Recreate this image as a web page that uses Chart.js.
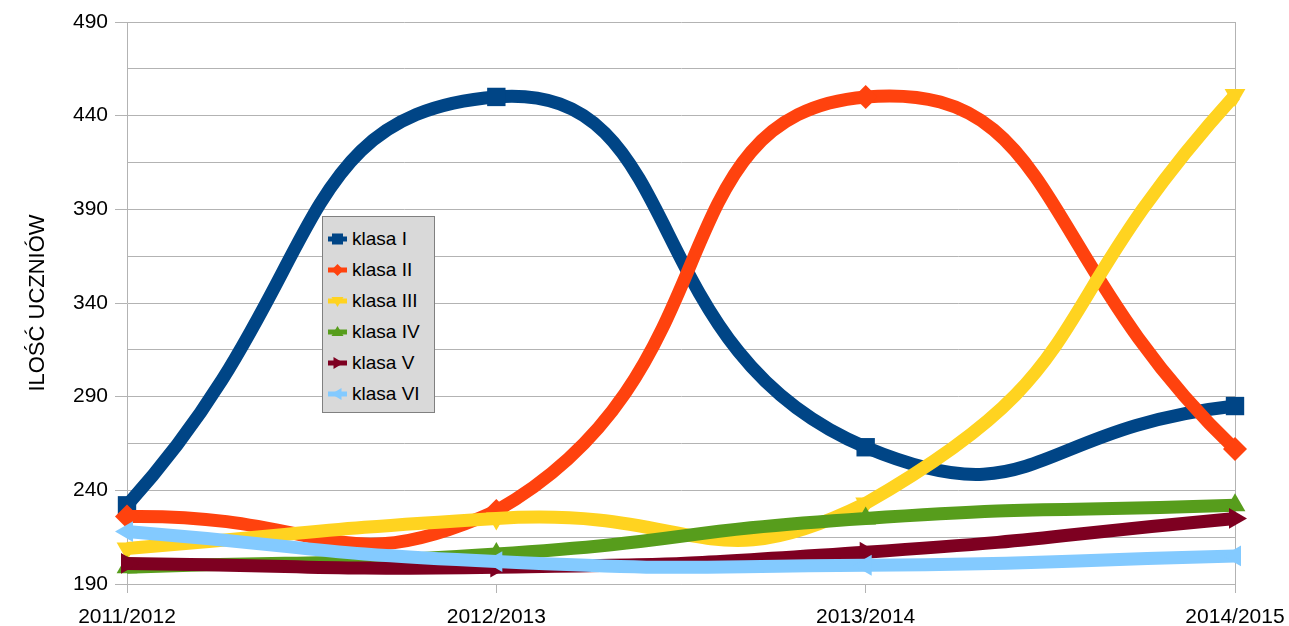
<!DOCTYPE html>
<html>
<head>
<meta charset="utf-8">
<script src="https://cdn.jsdelivr.net/npm/chart.js@4/dist/chart.umd.min.js"></script>
<style>
  body { margin: 0; background: #fff; }
  #wrap { position: relative; width: 1289px; height: 626px; }
  #legend {
    position: absolute; left: 322px; top: 216px; width: 111px; height: 189px;
    background: #d9d9d9; border: 1px solid #808080; padding-top: 6px; box-sizing: content-box;
    font-family: 'Liberation Sans', Arial, sans-serif; font-size: 19px; color: #000;
  }
  .item { height: 31px; display: flex; align-items: center; padding-left: 5px; }
  .item svg { margin-right: 5px; }
</style>
</head>
<body>
<div id="wrap">
  <canvas id="chart" width="1289" height="626"></canvas>
  <div id="legend"></div>
</div>
<script>
// Data
const categories = ['2011/2012', '2012/2013', '2013/2014', '2014/2015'];
const klasaI   = [232, 450, 263, 285];
const klasaII  = [226, 229, 450, 262];
const klasaIII = [209, 225, 233, 451];
const klasaIV  = [199, 206, 225, 232];
const klasaV   = [201, 199, 207, 225];
const klasaVI  = [218, 202, 200, 205];
const seriesNames = ['klasa I', 'klasa II', 'klasa III', 'klasa IV', 'klasa V', 'klasa VI'];
const yTickValues = [190, 215, 240, 265, 290, 315, 340, 365, 390, 415, 440, 465, 490];

const seriesData = [klasaI, klasaII, klasaIII, klasaIV, klasaV, klasaVI];
const colors = ['#004586', '#ff420e', '#ffd320', '#579d1c', '#7e0021', '#83caff'];
// marker shape and rotation for every series
const markers = [
    {style: 'rect', rot: 0, r: 13},
    {style: 'rectRot', rot: 0, r: 12},
    {style: 'triangle', rot: 180, r: 12},
    {style: 'triangle', rot: 0, r: 12},
    {style: 'triangle', rot: 90, r: 12},
    {style: 'triangle', rot: -90, r: 12}
];
const FONT = "'Liberation Sans', Arial, sans-serif";
const gridGray = '#b3b3b3';

const datasets = seriesData.map((d, i) => ({
    label: seriesNames[i],
    data: d,
    borderColor: colors[i],
    backgroundColor: colors[i],
    borderWidth: 13,
    tension: 0.55,
    pointStyle: markers[i].style,
    pointRotation: markers[i].rot,
    pointRadius: markers[i].r,
    pointBorderWidth: 0,
    pointBackgroundColor: colors[i],
    order: seriesData.length - i   // later series on top
}));

new Chart(document.getElementById('chart'), {
    type: 'line',
    data: { labels: categories, datasets: datasets },
    options: {
        responsive: false,
        animation: false,
        devicePixelRatio: 1,
        layout: { padding: { left: 0, right: 54, top: 22, bottom: 0 } },
        plugins: { legend: { display: false }, tooltip: { enabled: false } },
        scales: {
            x: {
                offset: false,
                grid: {
                    color: (ctx) => ctx.index === categories.length - 1 ? gridGray : 'rgba(0,0,0,0)',
                    tickColor: gridGray,
                    tickLength: 9
                },
                border: { color: gridGray },
                ticks: { color: '#000', font: { family: FONT, size: 21 }, padding: 12, maxRotation: 0 },
                afterFit: (scale) => {
                    scale.height = 42;
                    scale.paddingLeft = 0;
                    scale.paddingRight = 0;
                }
            },
            y: {
                min: 190,
                max: 490,
                afterBuildTicks: (scale) => { scale.ticks = yTickValues.map(v => ({ value: v })); },
                grid: {
                    color: gridGray,
                    tickColor: (ctx) => ctx.tick && (ctx.tick.value - 190) % 50 === 0 ? gridGray : 'rgba(0,0,0,0)',
                    tickLength: 12
                },
                border: { color: gridGray },
                ticks: {
                    color: '#000',
                    font: { family: FONT, size: 21 },
                    padding: 7,
                    callback: (v) => (v - 190) % 50 === 0 ? v : ''
                },
                title: {
                    display: true,
                    text: 'ILOŚĆ UCZNIÓW',
                    color: '#000',
                    font: { family: FONT, size: 22 },
                    padding: { top: 25, bottom: 0 }
                },
                afterFit: (scale) => { scale.width = 127; }
            }
        }
    }
});

// Legend box drawn as HTML, same order and look as the series
function markerSvg(i) {
    const c = colors[i];
    let shape;
    const cx = 9.5, cy = 7;
    if (i === 0) shape = `<rect x="${cx-5.5}" y="${cy-5.5}" width="11" height="11" fill="${c}"/>`;
    else if (i === 1) shape = `<polygon points="${cx},${cy-6} ${cx+6},${cy} ${cx},${cy+6} ${cx-6},${cy}" fill="${c}"/>`;
    else if (i === 2) shape = `<polygon points="${cx-6},${cy-4} ${cx+6},${cy-4} ${cx},${cy+6}" fill="${c}"/>`;
    else if (i === 3) shape = `<polygon points="${cx-6},${cy+4} ${cx+6},${cy+4} ${cx},${cy-6}" fill="${c}"/>`;
    else if (i === 4) shape = `<polygon points="${cx-4},${cy-6} ${cx-4},${cy+6} ${cx+6},${cy}" fill="${c}"/>`;
    else shape = `<polygon points="${cx+4},${cy-6} ${cx+4},${cy+6} ${cx-6},${cy}" fill="${c}"/>`;
    return `<svg width="19" height="14"><line x1="0" y1="${cy}" x2="19" y2="${cy}" stroke="${c}" stroke-width="5"/>${shape}</svg>`;
}
const legend = document.getElementById('legend');
seriesNames.forEach((name, i) => {
    const row = document.createElement('div');
    row.className = 'item';
    row.innerHTML = markerSvg(i) + '<span>' + name + '</span>';
    legend.appendChild(row);
});
</script>
</body>
</html>
